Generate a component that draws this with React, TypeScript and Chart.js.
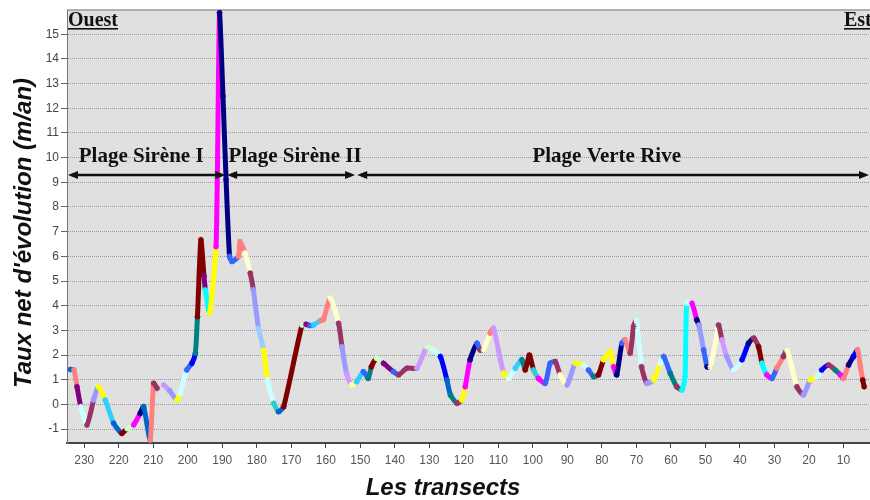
import { useEffect, useRef } from "react";
import { Chart, registerables } from "chart.js";
Chart.register(...registerables);

// ---- data ----
const TRANSECTS: number[] = [
  234, 233, 232.1, 231, 229.2, 227.3, 225.9, 223.9, 221.5, 219.1,
  217.6, 215.7, 213.8, 212.8, 210.9, 209.9, 208.9, 208, 207, 205.2,
  203.2, 202.2, 200.3, 198.8, 197.8, 197.2, 196.2, 195.3, 194.9, 193.7,
  191.8, 190.8, 189.8, 188.9, 187.9, 187.2, 185.3, 184.9, 183.4, 181.9,
  181, 179.5, 178, 176.9, 175.1, 173.7, 172.2, 166.9, 165.8, 164.7,
  163.6, 161.5, 160.7, 158.7, 156.3, 155.3, 154, 152.6, 151.1, 149.1,
  147.7, 146.8, 145.3, 143.3, 140.4, 138.9, 136.5, 133.6, 130.7, 128.8,
  126.8, 124.9, 123.9, 122, 120.6, 119.6, 118.2, 116.2, 115.3, 114.3,
  112.4, 111.4, 108.5, 107, 105.1, 103.2, 102.2, 101, 99.8, 98.4,
  96.4, 95, 93.5, 92.1, 90.1, 87.7, 85.3, 83.9, 82.4, 81,
  79.5, 77.6, 76.6, 75.7, 74.2, 73.3, 71.8, 70.8, 70, 68.5,
  67, 65, 63.1, 62.1, 60.2, 58.3, 56.8, 55.9, 55.4, 53.9,
  52.5, 51.9, 50.5, 49.5, 48.6, 47.1, 46.2, 45.2, 43.8, 41.8,
  39.4, 37.5, 36, 34.6, 33.6, 32.2, 30.7, 29.3, 27.4, 26.4,
  25, 23.5, 21.6, 19.6, 17.7, 16.3, 14.3, 12.4, 10.9, 10,
  8.5, 7.1, 5.9, 5.1, 4.4, 4.0,
];

const RATES: (number | null)[] = [
  1.42, 1.40, 0.72, -0.09, -0.83, 0.18, 0.72, 0.18, -0.76, -1.17,
  -0.97, -0.83, -0.36, -0.09, -1.44, 0.86, 0.66, null, 0.79, 0.55,
  0.18, 0.45, 1.40, 1.67, 2.08, 3.56, 6.67, 5.2, 4.64, 3.70,
  6.40, 15.87, 12.49, 9.10, 6.0, 5.79, 6.0, 6.6, 6.13, 5.32,
  4.65, 3.09, 2.2, 0.99, 0.05, -0.29, -0.09, 3.22, 3.25, 3.20,
  3.22, 3.40, 3.43, 4.31, 3.29, 2.34, 1.27, 0.79, 0.92, 1.33,
  1.06, 1.53, 1.87, 1.67, 1.33, 1.20, 1.47, 1.47, 2.34, 2.20,
  1.94, 0.99, 0.39, 0.05, 0.18, 0.72, 1.81, 2.48, 2.21, 2.21,
  2.89, 3.09, 1.27, 1.06, 1.47, 1.81, 1.40, 2.00, 1.40, 1.06,
  0.86, 1.67, 1.74, 1.20, 0.79, 1.67, 1.60, 1.40, 1.13, 1.20,
  1.81, 2.14, 1.53, 1.20, 2.48, 2.62, 2.08, 3.16, 3.43, 1.53,
  0.86, 0.99, 1.67, 1.94, 1.27, 0.72, 0.59, 1.13, 4.10, 4.10,
  3.43, 3.22, 2.21, 1.53, 1.53, 2.48, 3.22, 2.62, 1.94, 1.40,
  1.81, 2.48, 2.69, 2.34, 1.67, 1.20, 1.06, 1.47, 1.94, 2.21,
  1.53, 0.72, 0.39, 0.99, 1.13, 1.40, 1.60, 1.40, 1.20, 1.06,
  1.60, 1.94, 2.21, 1.53, 0.99, 0.72,
];

const X_TICKS = [230, 220, 210, 200, 190, 180, 170, 160, 150, 140, 130, 120, 110, 100, 90, 80, 70, 60, 50, 40, 30, 20, 10];
const Y_TICKS = [-1, 0, 1, 2, 3, 4, 5, 6, 7, 8, 9, 10, 11, 12, 13, 14, 15];

const ZONE_NAMES = ["Plage Sirène I", "Plage Sirène II", "Plage Verte Rive"];
const ZONE_FROM = [235, 188.6, 150.9];
const ZONE_TO = [189.1, 151.5, 2.3];
const ZONE_LABEL_AT = [213.5, 168.9, 78.6];
const ZONE_LEVEL = 9.3;

const WEST_LABEL = "Ouest";
const EAST_LABEL = "Est";
const X_TITLE = "Les transects";
const Y_TITLE = "Taux net d'évolution (m/an)";

// ---- styling ----
const SEGMENT_COLORS = [
  "#0066cc", "#ff8080", "#800080", "#ccffff", "#993366", "#9999ff", "#ffff00", "#33ccff", "#0066cc", "#800000",
  "#ccffcc", "#ff00ff", "#000080", "#0066cc", "#ff8080", "#993366", "#993366", "#993366", "#cc99ff", "#9999ff",
  "#ffff00", "#ccffff", "#3366ff", "#0000ff", "#008080", "#800000", "#800000", "#800080", "#00ffff", "#ffff00",
  "#ff00ff", "#000080", "#000080", "#000080", "#3366ff", "#3366ff", "#ff8080", "#ff8080", "#ffffcc", "#993366",
  "#9999ff", "#99ccff", "#ffff00", "#ccffff", "#33cccc", "#0066cc", "#800000", "#ccffcc", "#800080", "#3366ff",
  "#33ccff", "#ff8080", "#ff8080", "#ffffcc", "#993366", "#9999ff", "#cc99ff", "#ffff99", "#33ccff", "#3366ff",
  "#008080", "#800000", "#ccffcc", "#800080", "#3366ff", "#993366", "#993366", "#cc99ff", "#ccffcc", "#ccffff",
  "#0000ff", "#0066cc", "#008080", "#993366", "#ffff00", "#ff00ff", "#000080", "#3366ff", "#993366", "#ffffcc",
  "#ff8080", "#cc99ff", "#ffff00", "#ccffff", "#33ccff", "#008080", "#800000", "#800000", "#33cccc", "#ff00ff",
  "#3366ff", "#3366ff", "#993366", "#ffffcc", "#9999ff", "#ffff00", "#ccffff", "#3366ff", "#008080", "#800000",
  "#ffff00", "#ffff00", "#ff00ff", "#000080", "#3366ff", "#ff8080", "#993366", "#993366", "#ccffff", "#993366",
  "#9999ff", "#ffff00", "#ccffff", "#3366ff", "#008080", "#993366", "#00ffff", "#00ffff", "#ccffff", "#ff00ff",
  "#000080", "#9999ff", "#3366ff", "#000080", "#ffffcc", "#ffffcc", "#993366", "#cc99ff", "#9999ff", "#ccffff",
  "#0000ff", "#000080", "#993366", "#800000", "#00ffff", "#ff00ff", "#3366ff", "#ff8080", "#993366", "#ffffcc",
  "#ffffcc", "#993366", "#9999ff", "#ffff00", "#ccffff", "#0000ff", "#993366", "#008080", "#ff00ff", "#ff8080",
  "#000080", "#0000ff", "#ff8080", "#ff8080", "#800000", "#800000",
];

const annotationsPlugin = {
  id: "annotations",
  beforeDraw(chart: any) {
    const { ctx, chartArea: a } = chart;
    ctx.save();
    ctx.fillStyle = "#e0e0e0";
    ctx.fillRect(a.left, a.top, a.right - a.left, a.bottom - a.top);
    ctx.strokeStyle = "#9a9a9a";
    ctx.lineWidth = 1.5;
    ctx.beginPath();
    ctx.moveTo(a.left, a.top);
    ctx.lineTo(a.right, a.top);
    ctx.stroke();
    ctx.restore();
  },
  afterDatasetsDraw(chart: any) {
    const { ctx, chartArea: a, scales } = chart;
    const xs = scales.x;
    const ys = scales.y;
    const yArrow = ys.getPixelForValue(ZONE_LEVEL);
    ctx.save();
    ctx.strokeStyle = "#111";
    ctx.fillStyle = "#111";
    ctx.lineWidth = 2.5;
    const head = (tipX: number, dir: number) => {
      ctx.beginPath();
      ctx.moveTo(tipX, yArrow);
      ctx.lineTo(tipX - dir * 10, yArrow - 4);
      ctx.lineTo(tipX - dir * 10, yArrow + 4);
      ctx.closePath();
      ctx.fill();
    };
    ctx.font = "bold 21px 'Liberation Serif', 'Times New Roman', serif";
    ctx.textAlign = "center";
    ctx.textBaseline = "alphabetic";
    for (let i = 0; i < ZONE_NAMES.length; i++) {
      const x1 = Math.max(a.left + 1, xs.getPixelForValue(ZONE_FROM[i]));
      const x2 = Math.min(a.right - 1, xs.getPixelForValue(ZONE_TO[i]));
      ctx.beginPath();
      ctx.moveTo(x1 + 4, yArrow);
      ctx.lineTo(x2 - 4, yArrow);
      ctx.stroke();
      head(x1, -1);
      head(x2, 1);
      ctx.fillText(ZONE_NAMES[i], xs.getPixelForValue(ZONE_LABEL_AT[i]), yArrow - 13);
    }
    // West / East labels
    ctx.font = "bold 20px 'Liberation Serif', 'Times New Roman', serif";
    ctx.textAlign = "left";
    const base = a.top + 16;
    const drawUnderlined = (t: string, x: number) => {
      ctx.fillText(t, x, base);
      const w = ctx.measureText(t).width;
      ctx.fillRect(x, base + 2, w, 1.6);
    };
    drawUnderlined(WEST_LABEL, a.left + 1);
    drawUnderlined(EAST_LABEL, a.right - 26);
    ctx.restore();
  },
  afterDraw(chart: any) {
    const { ctx } = chart;
    ctx.save();
    ctx.fillStyle = "#111";
    ctx.font = "italic bold 24px 'Liberation Sans', Arial, sans-serif";
    ctx.textAlign = "center";
    ctx.textBaseline = "alphabetic";
    ctx.fillText(X_TITLE, 443, 495);
    ctx.translate(31, 233);
    ctx.rotate(-Math.PI / 2);
    ctx.fillText(Y_TITLE, 0, 0);
    ctx.restore();
  },
};

export default function App() {
  const ref = useRef<HTMLCanvasElement | null>(null);
  useEffect(() => {
    const prevMargin = document.body.style.margin;
    document.body.style.margin = "0";
    const canvas = ref.current!;
    const points = TRANSECTS.map((x, i) => ({ x, y: RATES[i] }));
    const chart = new Chart(canvas, {
      type: "line",
      data: {
        datasets: [
          {
            data: points as any,
            borderWidth: 5,
            borderCapStyle: "round",
            borderJoinStyle: "round",
            tension: 0.2,
            spanGaps: false,
            pointStyle: "star",
            pointRadius: 3,
            pointBorderWidth: 1.2,
            pointBorderColor: SEGMENT_COLORS,
            pointBackgroundColor: SEGMENT_COLORS,
            segment: {
              borderColor: (c: any) => SEGMENT_COLORS[c.p0DataIndex],
            },
          } as any,
        ],
      },
      options: {
        responsive: false,
        animation: false,
        events: [],
        layout: { autoPadding: false, padding: { top: 10, left: 0, right: 0, bottom: 0 } },
        plugins: { legend: { display: false }, tooltip: { enabled: false } },
        scales: {
          x: {
            type: "linear",
            reverse: true,
            min: 2.3,
            max: 235,
            afterBuildTicks: (s: any) => {
              s.ticks = X_TICKS.map((v) => ({ value: v }));
            },
            afterFit: (s: any) => {
              s.height = 57;
            },
            grid: { drawOnChartArea: false, drawTicks: true, tickLength: 5, tickColor: "#444" },
            border: { display: true, color: "#444", width: 2 },
            ticks: {
              autoSkip: false,
              maxRotation: 0,
              padding: 5,
              color: "#555",
              font: { family: "'Liberation Sans', Arial, sans-serif", size: 12 },
            },
          },
          y: {
            type: "linear",
            min: -1.56,
            max: 15.98,
            afterBuildTicks: (s: any) => {
              s.ticks = Y_TICKS.map((v) => ({ value: v }));
            },
            afterFit: (s: any) => {
              s.width = 67;
            },
            grid: {
              color: "#999999",
              lineWidth: 1,
              tickLength: 6,
              tickColor: "#666",
              tickBorderDash: [],
            } as any,
            border: { display: true, color: "#777", width: 1, dash: [1, 1] },
            ticks: {
              autoSkip: false,
              padding: 2,
              color: "#444",
              font: { family: "'Liberation Sans', Arial, sans-serif", size: 12 },
            },
          },
        },
      },
      plugins: [annotationsPlugin],
    } as any);
    return () => {
      chart.destroy();
      document.body.style.margin = prevMargin;
    };
  }, []);
  return (
    <div style={{ position: "absolute", left: 0, top: 0, width: 870, height: 500 }}>
      <canvas ref={ref} width={870} height={500} />
    </div>
  );
}
